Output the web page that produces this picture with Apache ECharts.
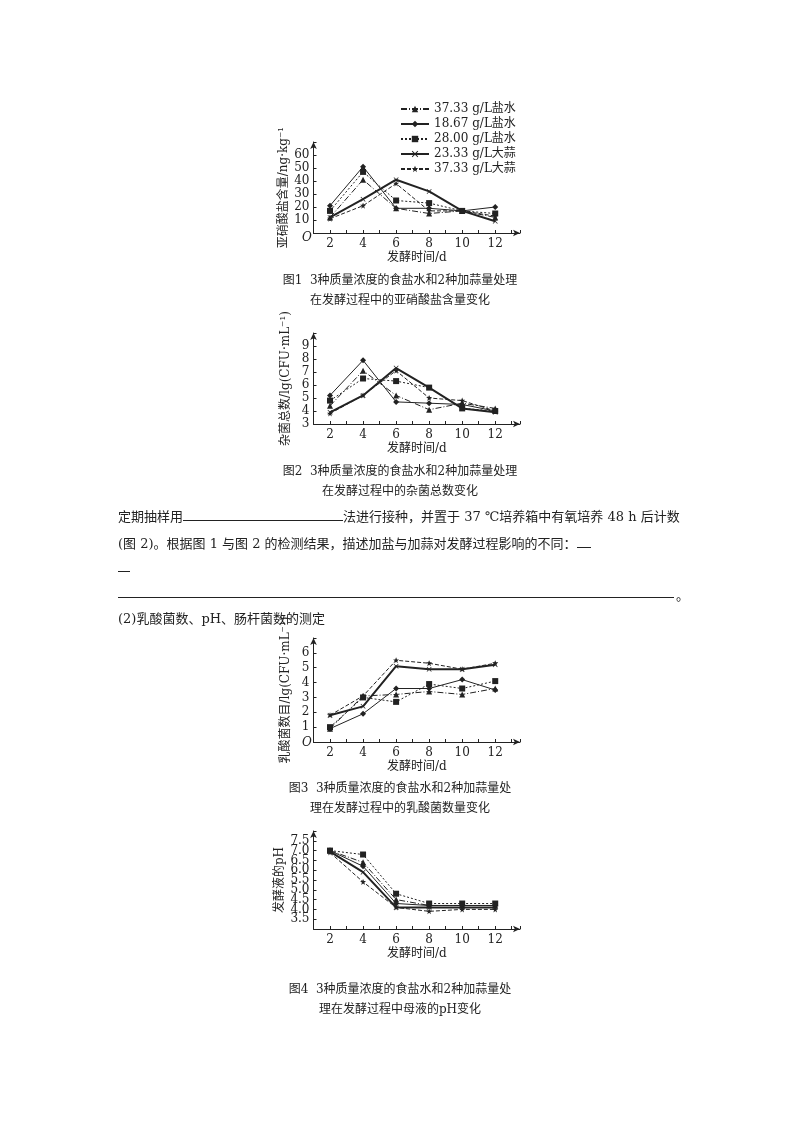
<!DOCTYPE html>
<html><head><meta charset="utf-8">
<script src="https://cdn.jsdelivr.net/npm/echarts@6/dist/echarts.min.js"></script>
<style>
body{margin:0;background:#fff;font-family:"DejaVu Serif","Noto Sans CJK SC",serif;color:#222}
#c{position:absolute;left:0;top:0;width:800px;height:1132px}
.t{position:absolute;font-size:13px;white-space:nowrap}
.cap{position:absolute;font-size:12px;white-space:nowrap;text-align:center;width:400px;left:200px}
</style></head><body>
<div id="c"></div>
<div class="cap" style="top:270px">图1&nbsp; 3种质量浓度的食盐水和2种加蒜量处理</div>
<div class="cap" style="top:290px">在发酵过程中的亚硝酸盐含量变化</div>
<div class="cap" style="top:461px">图2&nbsp; 3种质量浓度的食盐水和2种加蒜量处理</div>
<div class="cap" style="top:481px">在发酵过程中的杂菌总数变化</div>
<div class="t" style="left:118px;top:506px">定期抽样用<span style="display:inline-block;width:160px;border-bottom:1px solid #222;height:13px"></span>法进行接种，并置于 37 ℃培养箱中有氧培养 48 h 后计数</div>
<div class="t" style="left:118px;top:533px">(图 2)。根据图 1 与图 2 的检测结果，描述加盐与加蒜对发酵过程影响的不同：<span style="display:inline-block;width:14px;border-bottom:1px solid #222;height:13px"></span></div>
<div style="position:absolute;left:118px;top:571px;width:12px;border-top:1px solid #222"></div>
<div style="position:absolute;left:118px;top:597px;width:556px;border-top:1px solid #222"></div>
<div class="t" style="left:676px;top:585px">。</div>
<div class="t" style="left:118px;top:608px">(2)乳酸菌数、pH、肠杆菌数的测定</div>
<div class="cap" style="top:778px">图3&nbsp; 3种质量浓度的食盐水和2种加蒜量处</div>
<div class="cap" style="top:798px">理在发酵过程中的乳酸菌数量变化</div>
<div class="cap" style="top:979px">图4&nbsp; 3种质量浓度的食盐水和2种加蒜量处</div>
<div class="cap" style="top:999px">理在发酵过程中母液的pH变化</div>
<script>
const days = [2, 4, 6, 8, 10, 12];
const names = ['37.33 g/L盐水', '18.67 g/L盐水', '28.00 g/L盐水', '23.33 g/L大蒜', '37.33 g/L大蒜'];
// fig1 nitrite
const nitA = [12, 41, 19, 15, 17, 12];
const nitB = [21, 51, 19, 19, 17, 20];
const nitC = [17, 47, 25, 23, 17, 15];
const nitD = [12, 26, 41, 32, 17, 9];
const nitE = [11, 21, 38, 17, 17, 13];
// fig2 misc bacteria
const bacA = [4.4, 7.1, 5.2, 4.1, 4.6, 4.2];
const bacB = [5.2, 7.9, 4.7, 4.6, 4.5, 4.0];
const bacC = [4.8, 6.5, 6.3, 5.8, 4.2, 4.0];
const bacD = [3.9, 5.2, 7.3, 5.8, 4.2, 3.9];
const bacE = [3.8, 5.2, 7.1, 5.0, 4.8, 4.0];
// fig3 lactic
const labA = [0.9, 3.1, 3.2, 3.4, 3.2, 3.6];
const labB = [0.9, 1.9, 3.6, 3.6, 4.2, 3.5];
const labC = [1.0, 3.0, 2.7, 3.9, 3.6, 4.1];
const labD = [1.8, 2.4, 5.1, 4.9, 4.9, 5.2];
const labE = [1.8, 3.1, 5.5, 5.3, 4.9, 5.3];
// fig4 pH
const phA = [7.0, 6.4, 4.5, 4.2, 4.2, 4.2];
const phB = [7.0, 6.2, 4.3, 4.2, 4.2, 4.2];
const phC = [7.0, 6.8, 4.8, 4.3, 4.3, 4.3];
const phD = [6.95, 5.9, 4.1, 4.1, 4.1, 4.1];
const phE = [6.9, 5.4, 4.1, 3.9, 4.0, 4.0];

const star = 'path://M0,-10L3,-3L10,-3L4,2L6,10L0,5L-6,10L-4,2L-10,-3L-3,-3Z';
const cross = 'path://M-10,-8L-8,-10L0,-2L8,-10L10,-8L2,0L10,8L8,10L0,2L-8,10L-10,8L-2,0Z';
const styles = [
  {symbol: 'triangle', size: 6, type: [6, 2, 1, 2], width: 1},
  {symbol: 'diamond', size: 6, type: 'solid', width: 1},
  {symbol: 'rect', size: 6, type: [2, 2], width: 1},
  {symbol: cross, size: 5, type: 'solid', width: 2},
  {symbol: star, size: 6, type: [4, 2], width: 1}
];
const sets = [
  [nitA, nitB, nitC, nitD, nitE],
  [bacA, bacB, bacC, bacD, bacE],
  [labA, labB, labC, labD, labE],
  [phA, phB, phC, phD, phE]
];
const font = '"DejaVu Serif","Noto Sans CJK SC",serif';
const grids = [
  {left: 313.5, top: 142, width: 206.5, height: 91},
  {left: 313.5, top: 333, width: 206.5, height: 91},
  {left: 313.5, top: 638, width: 206.5, height: 104},
  {left: 313.5, top: 831, width: 206.5, height: 98}
];
const yCfg = [
  {min: 0, max: 70, interval: 10, name: '亚硝酸盐含量/ng·kg⁻¹', fmt: v => (v === 0 || v > 60) ? '' : v},
  {min: 3, max: 10, interval: 1, name: '杂菌总数/lg(CFU·mL⁻¹)', fmt: v => v > 9 ? '' : v},
  {min: 0, max: 7, interval: 1, name: '乳酸菌数目/lg(CFU·mL⁻¹)', fmt: v => (v === 0 || v > 6) ? '' : v},
  {min: 3, max: 8, interval: 0.5, name: '发酵液的pH', fmt: v => v > 7.5 ? '' : v.toFixed(1)}
];
const axisLine = {symbol: ['none', 'arrow'], symbolSize: [5, 7], lineStyle: {color: '#222'}};
const xAxis = grids.map((g, i) => ({
  type: 'value', gridIndex: i, min: 1, max: 13.5, interval: 1,
  name: '发酵时间/d', nameLocation: 'middle', nameGap: 19,
  nameTextStyle: {fontFamily: font, fontSize: 12, color: '#222'},
  axisLine, axisTick: {inside: true, length: 3, lineStyle: {color: '#222'}},
  axisLabel: {fontFamily: font, fontSize: 12, color: '#222', margin: 5,
    formatter: v => (v % 2 === 0 && v <= 12) ? v : ''},
  splitLine: {show: false}
}));
const yAxis = yCfg.map((c, i) => ({
  type: 'value', gridIndex: i, min: c.min, max: c.max, interval: c.interval,
  name: c.name, nameLocation: 'middle', nameGap: i === 3 ? 28 : 22, nameRotate: 90,
  nameTextStyle: {fontFamily: font, fontSize: 12, color: '#222'},
  axisLine, axisTick: {inside: true, length: 3, lineStyle: {color: '#222'}},
  axisLabel: {fontFamily: font, fontSize: 12, color: '#222', margin: 4, formatter: c.fmt},
  splitLine: {show: false}
}));
const series = [];
sets.forEach((set, gi) => set.forEach((vals, si) => {
  const s = styles[si];
  series.push({
    type: 'line', name: names[si], xAxisIndex: gi, yAxisIndex: gi,
    data: days.map((d, k) => [d, vals[k]]),
    symbol: s.symbol, symbolSize: s.size, showSymbol: true,
    lineStyle: {color: '#222', width: s.width, type: s.type},
    itemStyle: {color: '#222'}, animation: false
  });
}));
const chart = echarts.init(document.getElementById('c'));
chart.setOption({
  animation: false,
  grid: grids,
  xAxis, yAxis, series,
  legend: {
    orient: 'vertical', left: 395, top: 98, itemGap: 3, itemWidth: 28, itemHeight: 8,
    textStyle: {fontFamily: font, fontSize: 12, color: '#222'},
    data: names
  },
  graphic: [
    {type: 'text', left: 302, top: 232, style: {text: 'O', font: 'italic 12px ' + font, fill: '#222'}},
    {type: 'text', left: 302, top: 737, style: {text: 'O', font: 'italic 12px ' + font, fill: '#222'}}
  ]
});
</script>
</body></html>
